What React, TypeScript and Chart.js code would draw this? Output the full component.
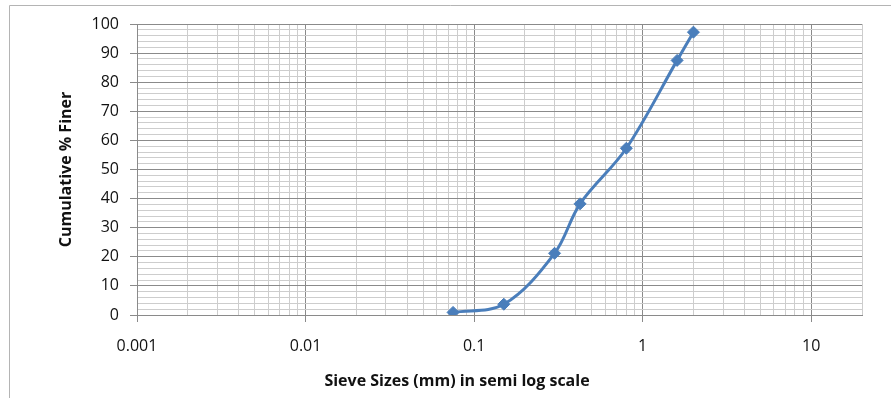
import React, { useEffect, useRef } from 'react';
import { Chart, registerables } from 'chart.js';

Chart.register(...registerables);

// ---- Data ----
const sieveSizes = [0.075, 0.15, 0.3, 0.425, 0.8, 1.6, 2];
const percentFiner = [0.9, 3.7, 21.2, 38.2, 57.3, 87.5, 97.2];

const xMin = 0.001;
const xMax = 20;
const xDecades = [0.001, 0.01, 0.1, 1, 10];
const yMin = 0;
const yMax = 100;
const yMajorStep = 10;
const yMinorStep = 2;

const xTitle = 'Sieve Sizes (mm) in semi log scale';
const yTitle = 'Cumulative % Finer';

// ---- Styles ----
const LINE_BLUE = '#4A7EBB';
const MAJOR_GRID = '#8a8a8a';
const MINOR_GRID = '#cdcdcd';
const TEXT = '#111111';
const FONT = '"Open Sans", "Noto Sans", sans-serif';

const W = 891;
const H = 398;

function isDecade(v: number) {
  const l = Math.log10(v);
  return Math.abs(l - Math.round(l)) < 1e-9;
}

function buildXTicks() {
  const out: { value: number }[] = [];
  for (const d of xDecades) {
    for (let m = 1; m <= 9; m++) {
      const v = parseFloat((m * d).toPrecision(6));
      if (v >= xMin && v <= 10) out.push({ value: v });
    }
  }
  out.push({ value: xMax });
  return out;
}

function buildYTicks() {
  const out: { value: number }[] = [];
  for (let v = yMin; v <= yMax + 1e-9; v += yMinorStep) out.push({ value: Math.round(v * 100) / 100 });
  return out;
}

const decorPlugin = {
  id: 'decor',
  beforeDraw(chart: any) {
    const ctx = chart.ctx;
    ctx.save();
    ctx.fillStyle = '#ffffff';
    ctx.fillRect(0, 0, W, H);
    ctx.strokeStyle = '#b4b4b4';
    ctx.lineWidth = 1;
    ctx.beginPath();
    ctx.moveTo(9.5, H + 5);
    ctx.lineTo(9.5, 5.5);
    ctx.lineTo(W + 5, 5.5);
    ctx.stroke();
    ctx.restore();
  },
  afterDraw(chart: any) {
    const ctx = chart.ctx;
    const area = chart.chartArea;
    ctx.save();
    ctx.fillStyle = TEXT;
    ctx.font = `bold 16px ${FONT}`;
    ctx.textAlign = 'center';
    ctx.textBaseline = 'middle';
    ctx.fillText(xTitle, 457, 381);
    ctx.translate(66, (area.top + area.bottom) / 2);
    ctx.rotate(-Math.PI / 2);
    ctx.fillText(yTitle, 0, 0);
    ctx.restore();
  },
};

export default function App() {
  const canvasRef = useRef<HTMLCanvasElement | null>(null);

  useEffect(() => {
    const canvas = canvasRef.current;
    if (!canvas) return;
    const points = sieveSizes.map((x, i) => ({ x, y: percentFiner[i] }));

    const chart = new Chart(canvas, {
      type: 'line',
      data: {
        datasets: [
          {
            label: 'Cumulative % Finer',
            data: points,
            borderColor: LINE_BLUE,
            backgroundColor: LINE_BLUE,
            borderWidth: 3,
            tension: 0.35,
            pointStyle: 'rectRot',
            pointRadius: 6,
            pointBackgroundColor: LINE_BLUE,
            pointBorderColor: LINE_BLUE,
            pointBorderWidth: 1,
            fill: false,
          },
        ],
      },
      options: {
        responsive: false,
        animation: false,
        devicePixelRatio: 1,
        layout: { padding: { top: 24, right: 29, left: 0, bottom: 0 } },
        plugins: {
          legend: { display: false },
          tooltip: { enabled: false },
          title: { display: false },
        },
        scales: {
          x: {
            type: 'logarithmic',
            min: xMin,
            max: xMax,
            afterBuildTicks: (scale: any) => {
              scale.ticks = buildXTicks();
            },
            afterFit: (scale: any) => {
              scale.height = H - 315;
            },
            ticks: {
              autoSkip: false,
              maxRotation: 0,
              minRotation: 0,
              padding: 15,
              color: TEXT,
              font: { family: FONT, size: 16 },
              callback: (value: any) => (isDecade(Number(value)) ? String(Number(value)) : ''),
            },
            grid: {
              drawOnChartArea: true,
              drawTicks: true,
              tickLength: 7,
              lineWidth: 1,
              color: (ctx: any) => (ctx.tick && isDecade(ctx.tick.value) ? MAJOR_GRID : MINOR_GRID),
              tickColor: (ctx: any) => (ctx.tick && isDecade(ctx.tick.value) ? MAJOR_GRID : 'rgba(0,0,0,0)'),
            },
            border: { display: true, color: MAJOR_GRID, width: 1 },
          },
          y: {
            type: 'linear',
            min: yMin,
            max: yMax,
            afterBuildTicks: (scale: any) => {
              scale.ticks = buildYTicks();
            },
            afterFit: (scale: any) => {
              scale.width = 137;
            },
            ticks: {
              autoSkip: false,
              padding: 11,
              color: TEXT,
              font: { family: FONT, size: 16 },
              callback: (value: any) => (Number(value) % yMajorStep === 0 ? String(value) : ''),
            },
            grid: {
              drawTicks: true,
              tickLength: 7,
              lineWidth: 1,
              color: (ctx: any) =>
                ctx.tick && ctx.tick.value % yMajorStep === 0 ? MAJOR_GRID : MINOR_GRID,
              tickColor: (ctx: any) =>
                ctx.tick && ctx.tick.value % yMajorStep === 0 ? MAJOR_GRID : 'rgba(0,0,0,0)',
            },
            border: { display: true, color: MAJOR_GRID, width: 1 },
          },
        },
      },
      plugins: [decorPlugin],
    } as any);

    return () => {
      chart.destroy();
    };
  }, []);

  return (
    <div style={{ position: 'fixed', left: 0, top: 0, width: W, height: H, background: '#fff' }}>
      <canvas ref={canvasRef} width={W} height={H} style={{ display: 'block', width: W, height: H }} />
    </div>
  );
}
